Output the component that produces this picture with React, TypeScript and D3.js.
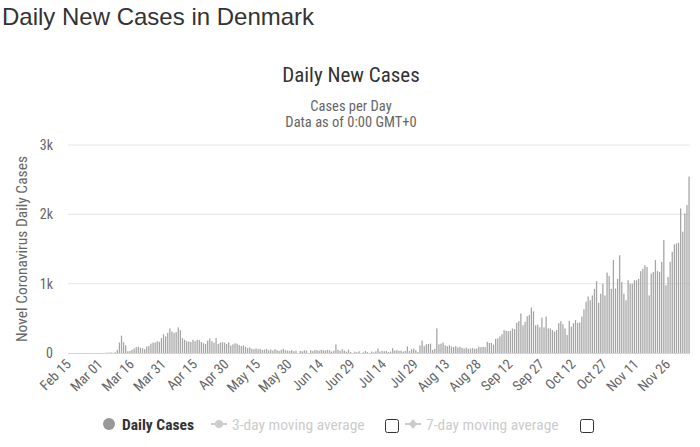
import * as d3 from 'd3';

// daily new cases, Feb 15 – Dec 6 2020
const cases: number[] = [
  0, 0, 0, 0, 0, 0, 0, 0, 0, 0, 0, 0, 1, 0, 2, 0, 1, 1, 5, 5,
  8, 3, 10, 45, 150, 250, 155, 110, 25, 30, 45, 65, 85, 90, 75, 70, 55, 95, 100, 135,
  150, 150, 170, 160, 215, 270, 240, 290, 355, 310, 290, 300, 370, 330, 215, 190, 170, 165, 160, 190,
  170, 190, 185, 160, 140, 130, 180, 210, 170, 150, 215, 130, 150, 155, 150, 130, 155, 110, 125, 140,
  135, 115, 100, 110, 90, 70, 80, 60, 55, 65, 55, 60, 45, 50, 60, 40, 50, 35, 55, 40,
  30, 45, 60, 40, 35, 30, 40, 25, 35, 0, 30, 25, 40, 35, 0, 40, 30, 45, 40, 35,
  45, 40, 35, 45, 40, 20, 35, 125, 45, 30, 55, 35, 20, 50, 15, 0, 20, 10, 25, 0,
  10, 30, 15, 0, 20, 10, 25, 65, 20, 30, 25, 30, 15, 20, 70, 35, 40, 30, 35, 20,
  30, 95, 30, 55, 65, 40, 15, 110, 180, 100, 125, 130, 135, 45, 60, 355, 125, 135, 150, 110,
  100, 110, 95, 85, 100, 80, 90, 75, 65, 78, 60, 65, 70, 60, 65, 90, 85, 90, 85, 160,
  145, 145, 120, 205, 210, 240, 270, 330, 320, 315, 320, 355, 345, 436, 460, 570, 400, 450, 530, 550,
  655, 600, 400, 410, 370, 510, 370, 525, 355, 355, 330, 310, 330, 430, 460, 415, 355, 260, 465, 380,
  430, 475, 435, 440, 525, 630, 740, 815, 760, 830, 925, 1035, 725, 855, 1000, 830, 1160, 1110, 925, 1340,
  930, 1070, 1410, 1025, 855, 760, 1050, 1000, 1000, 1050, 1050, 1070, 1180, 1215, 1265, 1240, 830, 1145, 1170, 1340,
  1180, 1170, 1315, 1630, 975, 1095, 1315, 1460, 1565, 1580, 1590, 2085, 1750, 2015, 2135, 2545,
];

const tickLabels = [
  'Feb 15', 'Mar 01', 'Mar 16', 'Mar 31', 'Apr 15', 'Apr 30', 'May 15', 'May 30', 'Jun 14', 'Jun 29',
  'Jul 14', 'Jul 29', 'Aug 13', 'Aug 28', 'Sep 12', 'Sep 27', 'Oct 12', 'Oct 27', 'Nov 11', 'Nov 26',
];
const tickStep = 15;
const yTicks = [0, 1000, 2000, 3000];

const narrow = '"Liberation Sans Narrow", "Arial Narrow", "Roboto Condensed", sans-serif';

export default function App() {
  const width = 700;
  const height = 447;
  const left = 68;
  const right = 690;
  const top = 145;
  const bottom = 353;

  const days = cases.map((_, i) => String(i));
  const x = d3.scaleBand<string>().domain(days).range([left, right]).paddingInner(0.4).paddingOuter(0.15);
  const y = d3.scaleLinear().domain([0, 3000]).range([bottom, top]);
  const fmt = (v: number) => (v === 0 ? '0' : `${v / 1000}k`);

  return (
    <svg
      width={width}
      height={height}
      style={{ position: 'absolute', left: 0, top: 0, background: '#fff' }}
    >
      <text x={2} y={25} fontFamily='"Liberation Sans", Arial, sans-serif' fontSize={24} fill="#333">
        Daily New Cases in Denmark
      </text>

      <text x={351} y={82} textAnchor="middle" fontFamily={narrow} fontSize={21} fill="#333">
        Daily New Cases
      </text>
      <text x={351} y={111} textAnchor="middle" fontFamily={narrow} fontSize={14.5} fill="#666">
        Cases per Day
      </text>
      <text x={351} y={127} textAnchor="middle" fontFamily={narrow} fontSize={14.5} fill="#666">
        Data as of 0:00 GMT+0
      </text>

      {yTicks.map((t) => (
        <g key={t}>
          {t > 0 && <line x1={left} x2={right} y1={y(t)} y2={y(t)} stroke="#e6e6e6" strokeWidth={1} />}
          <text x={53} y={y(t) + 5} textAnchor="end" fontFamily={narrow} fontSize={14} fill="#666">
            {fmt(t)}
          </text>
        </g>
      ))}

      <text
        transform={`translate(27,${(top + bottom) / 2}) rotate(-90)`}
        textAnchor="middle"
        fontFamily={narrow}
        fontSize={15.5}
        fill="#666"
      >
        Novel Coronavirus Daily Cases
      </text>

      {cases.map((v, i) => (
        <rect
          key={i}
          x={x(String(i))}
          y={y(v)}
          width={x.bandwidth()}
          height={bottom - y(v)}
          fill="#a4a4a4"
        />
      ))}

      <line x1={left} x2={right} y1={bottom + 0.5} y2={bottom + 0.5} stroke="#ccd6eb" strokeWidth={1} />

      {tickLabels.map((lab, k) => {
        const cx = (x(String(k * tickStep)) ?? 0) + x.bandwidth() / 2;
        return (
          <text
            key={lab}
            transform={`translate(${cx + 3},${bottom + 12}) rotate(-45)`}
            textAnchor="end"
            fontFamily={narrow}
            fontSize={14}
            fill="#666"
          >
            {lab}
          </text>
        );
      })}

      <g fontFamily={narrow} fontSize={15.5}>
        <circle cx={109} cy={424} r={6} fill="#999" />
        <text x={122} y={429.5} fontWeight="bold" fill="#333">
          Daily Cases
        </text>

        <line x1={211} x2={227} y1={424} y2={424} stroke="#ccc" strokeWidth={2} />
        <circle cx={219} cy={424} r={4} fill="#ccc" />
        <text x={232} y={429.5} fill="#ccc">
          3-day moving average
        </text>
        <rect x={385.5} y={419.5} width={13} height={13} rx={2} fill="#fff" stroke="#333" strokeWidth={1} />

        <line x1={405} x2={421} y1={424} y2={424} stroke="#ccc" strokeWidth={2} />
        <path d="M413,419 L417,424 L413,429 L409,424 Z" fill="#ccc" />
        <text x={426} y={429.5} fill="#ccc">
          7-day moving average
        </text>
        <rect x={580.5} y={419.5} width={13} height={13} rx={2} fill="#fff" stroke="#333" strokeWidth={1} />
      </g>
    </svg>
  );
}
